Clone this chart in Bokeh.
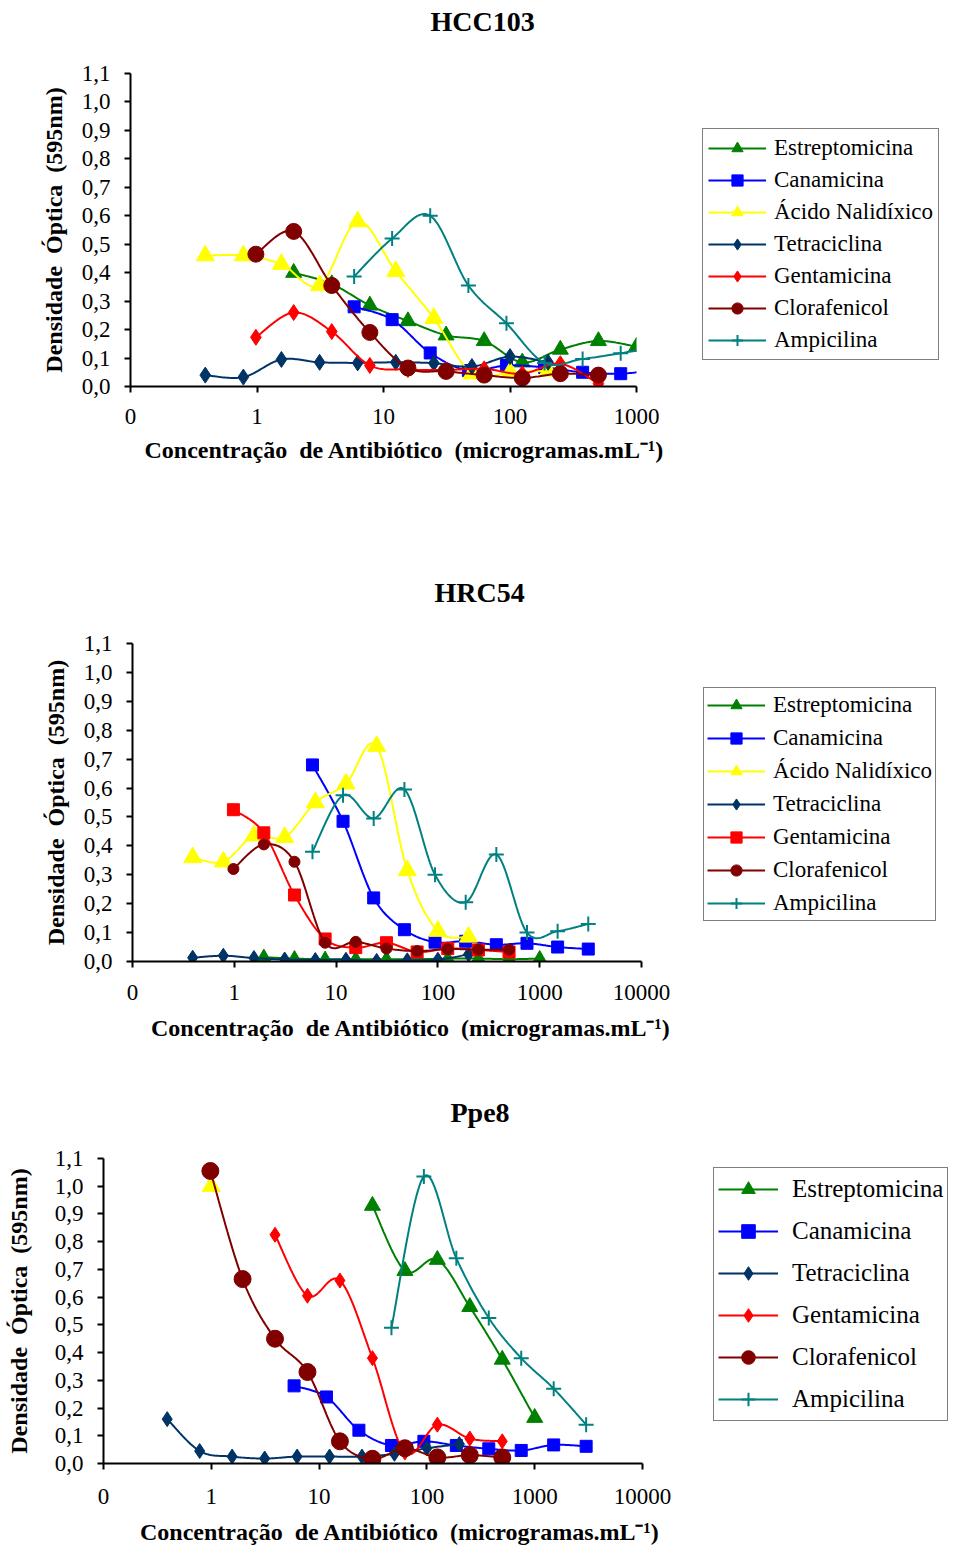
import math
import numpy as np
from bokeh.plotting import figure
from bokeh.models import (Range1d, FixedTicker, CustomJSTickFormatter, Title,
                          Legend, LegendItem)
from bokeh.embed import file_html
from bokeh.resources import INLINE

FONT = "Liberation Serif"
NB = "\u00a0"

# ---------------- data (concentrations in microgramas/mL, OD 595nm) ----------------
conc_a = [0.39, 0.78, 1.56, 3.125, 6.25, 12.5, 25, 50, 100, 200]
conc_b = [0.98, 1.95, 3.9, 7.8, 15.6, 31.25, 62.5, 125, 250, 500]
conc_c = [1.95, 3.9, 7.8, 15.6, 31.25, 62.5, 125, 250, 500, 1000]
conc_d = [5.86, 11.7, 23.4, 46.9, 93.75, 187.5, 375, 750, 1500, 3000]

x_ticks_short = [0.1, 1, 10, 100, 1000]
x_ticks_long = [0.1, 1, 10, 100, 1000, 10000]
y_ticks = [0.0, 0.1, 0.2, 0.3, 0.4, 0.5, 0.6, 0.7, 0.8, 0.9, 1.0, 1.1]

titles = ["HCC103", "HRC54", "Ppe8"]
y_label = "Densidade" + NB * 2 + "Óptica" + NB * 2 + "(595nm)"
x_label = "Concentração" + NB * 2 + "de Antibiótico" + NB * 2 + "(microgramas.mL⁻¹)"

# HCC103
hcc_estrep = [0.40, 0.36, 0.285, 0.23, 0.18, 0.16, 0.085, 0.13, 0.16, 0.14]
hcc_canam = [0.28, 0.235, 0.118, 0.056, 0.074, 0.067, 0.05, 0.045, 0.06]
hcc_nalid = [0.46, 0.46, 0.43, 0.355, 0.58, 0.405, 0.24, 0.045, 0.05, 0.055]
hcc_tetra = [0.04, 0.033, 0.095, 0.085, 0.083, 0.085, 0.082, 0.07, 0.105, 0.085]
hcc_genta = [0.173, 0.26, 0.193, 0.074, 0.06, 0.058, 0.062, 0.045, 0.08, 0.01]
hcc_clora = [0.465, 0.545, 0.355, 0.19, 0.065, 0.053, 0.04, 0.03, 0.045, 0.04]
hcc_ampic = [0.387, 0.52, 0.60, 0.355, 0.222, 0.083, 0.097, 0.117, 0.14]

# HRC54
hrc_estrep = [0.015, 0.01, 0.008, 0.008, 0.008, 0.008, 0.01, 0.01, 0.008, 0.01]
hrc_canam = [0.68, 0.485, 0.22, 0.11, 0.067, 0.07, 0.058, 0.063, 0.05, 0.043]
hrc_nalid = [0.36, 0.345, 0.435, 0.43, 0.55, 0.615, 0.745, 0.315, 0.105, 0.085]
hrc_tetra = [0.013, 0.02, 0.012, 0.007, 0.005, 0.006, 0.002, 0.004, 0.006, 0.025]
hrc_genta = [0.525, 0.445, 0.23, 0.078, 0.048, 0.065, 0.033, 0.045, 0.04, 0.033]
hrc_clora = [0.32, 0.405, 0.345, 0.065, 0.068, 0.045, 0.036, 0.043, 0.041, 0.041]
hrc_ampic = [0.38, 0.575, 0.495, 0.595, 0.30, 0.205, 0.37, 0.10, 0.105, 0.13]

# Ppe8
ppe_estrep = [0.93, 0.695, 0.735, 0.565, 0.375, 0.165]          # conc_c[4:]
ppe_canam = [0.28, 0.24, 0.12, 0.065, 0.08, 0.065, 0.053, 0.047, 0.067, 0.062]
ppe_nalid_x = [1.0]
ppe_nalid = [1.0]
ppe_tetra = [0.16, 0.045, 0.025, 0.018, 0.025, 0.025, 0.025, 0.035, 0.055, 0.07]
ppe_genta = [0.825, 0.605, 0.66, 0.38, 0.04, 0.14, 0.09, 0.08]   # conc_b[2:]
ppe_clora = [1.055, 0.665, 0.45, 0.33, 0.08, 0.017, 0.055, 0.022, 0.03, 0.022]
ppe_ampic = [0.49, 1.035, 0.74, 0.525, 0.38, 0.27, 0.14]         # conc_d[3:]

C_ESTREP = "#008000"
C_CANAM = "#0000FF"
C_NALID = "#FFFF00"
C_TETRA = "#003366"
C_GENTA = "#FF0000"
C_CLORA = "#800000"
C_AMPIC = "#008080"


def smooth(xs, ys, n=24):
    """Excel-like smoothed line (Bezier / Catmull-Rom in log10(x), y)."""
    lx = list(np.log10(np.asarray(xs, dtype=float)))
    ly = list(np.asarray(ys, dtype=float))
    if len(lx) < 3:
        return list(xs), list(ys)
    P = [(lx[0], ly[0])] + list(zip(lx, ly)) + [(lx[-1], ly[-1])]
    ox, oy = [], []
    for i in range(1, len(P) - 2):
        p0, p1, p2, p3 = (np.array(P[i - 1]), np.array(P[i]),
                          np.array(P[i + 1]), np.array(P[i + 2]))
        c1 = p1 + (p2 - p0) / 6.0
        c2 = p2 - (p3 - p1) / 6.0
        for t in np.linspace(0, 1, n, endpoint=False):
            b = ((1 - t) ** 3) * p1 + 3 * ((1 - t) ** 2) * t * c1 \
                + 3 * (1 - t) * t * t * c2 + t ** 3 * p2
            ox.append(b[0])
            oy.append(b[1])
    ox.append(lx[-1])
    oy.append(ly[-1])
    return list(10 ** np.array(ox)), oy


def make_panel(idx, series, xmax, xticks, page_top, page_bottom, frame, cfg):
    fl, fr, ft, fb = frame  # page pixel edges of the plotting frame
    ttl = Title(text=titles[idx], align="left", offset=cfg["title_off"],
                text_font=FONT, text_font_style="bold",
                text_font_size="28px", text_color="black", standoff=0)
    p = figure(frame_width=fr - fl, frame_height=fb - ft,
               x_axis_type="log", title=ttl,
               x_range=Range1d(0.1, xmax), y_range=Range1d(0, 1.1),
               output_backend="svg", toolbar_location=None,
               min_border_left=fl, min_border_right=0,
               min_border_top=ft - page_top,
               min_border_bottom=page_bottom - fb)
    # spacer between the title and the frame
    p.add_layout(Title(text=" ", text_font_size="1px",
                       standoff=cfg["spacer"]), "above")
    p.outline_line_color = None
    p.xgrid.visible = False
    p.ygrid.visible = False
    p.background_fill_color = "white"
    p.border_fill_color = "white"

    for ax in (p.xaxis[0], p.yaxis[0]):
        ax.axis_line_color = "black"
        ax.axis_line_width = 2
        ax.major_tick_line_color = "black"
        ax.major_tick_line_width = 2
        ax.major_tick_in = 0
        ax.major_tick_out = 6
        ax.minor_tick_line_color = None
        ax.major_label_text_font = FONT
        ax.major_label_text_font_size = "23px"
        ax.major_label_text_color = "black"
        ax.axis_label_text_font = FONT
        ax.axis_label_text_font_style = "bold"
        ax.axis_label_text_color = "black"
    p.xaxis.ticker = FixedTicker(ticks=xticks)
    p.xaxis.formatter = CustomJSTickFormatter(
        code="return tick < 0.5 ? '0' : tick.toFixed(0);")
    p.xaxis.major_label_standoff = cfg["xtick_standoff"]
    p.xaxis.axis_label = NB * cfg["xlab_shift"] + x_label
    p.xaxis.axis_label_text_font_size = "24px"
    p.xaxis.axis_label_standoff = cfg["xlab_standoff"]

    p.yaxis.ticker = FixedTicker(ticks=y_ticks)
    p.yaxis.formatter = CustomJSTickFormatter(
        code="return tick.toFixed(1).replace('.', ',');")
    p.yaxis.major_label_standoff = 14
    p.yaxis.axis_label = y_label
    p.yaxis.axis_label_text_font_size = "24px"
    p.yaxis.axis_label_standoff = cfg["ylab_standoff"]

    items = []
    for (name, xs, ys, marker, color, size, show) in series:
        sx, sy = smooth(xs, ys)
        rend = []
        if len(xs) > 1:
            rend.append(p.line(sx, sy, line_color=color, line_width=2))
        if marker == "cross":
            rend.append(p.scatter(xs, ys, marker="cross", size=size,
                                  line_color=color, line_width=2))
        else:
            rend.append(p.scatter(xs, ys, marker=marker, size=size,
                                  fill_color=color, line_color=color))
        if show:
            items.append(LegendItem(label=name, renderers=rend))

    lg = Legend(items=items, location=cfg["loc"])
    lg.label_text_font = FONT
    lg.label_text_font_size = cfg["font"]
    lg.label_text_color = "black"
    lg.glyph_width = cfg["gw"]
    lg.glyph_height = cfg["gh"]
    lg.label_height = cfg["gh"]
    lg.spacing = cfg["sp"]
    lg.padding = cfg["pad"]
    lg.margin = 0
    lg.label_standoff = cfg["so"]
    lg.border_line_color = "black"
    lg.border_line_width = 1.5
    lg.background_fill_color = "white"
    lg.background_fill_alpha = 1.0
    p.add_layout(lg, "right")
    return p


s1 = [
    ("Estreptomicina", conc_c, hcc_estrep, "triangle", C_ESTREP, 16, True),
    ("Canamicina", conc_d[:9], hcc_canam, "square", C_CANAM, 12, True),
    ("Ácido Nalidíxico", conc_a, hcc_nalid, "triangle", C_NALID, 18, True),
    ("Tetraciclina", conc_a, hcc_tetra, "diamond", C_TETRA, 16, True),
    ("Gentamicina", conc_b, hcc_genta, "diamond", C_GENTA, 16, True),
    ("Clorafenicol", conc_b, hcc_clora, "circle", C_CLORA, 16, True),
    ("Ampicilina", conc_d[:9], hcc_ampic, "cross", C_AMPIC, 15, True),
]
s2 = [
    ("Estreptomicina", conc_c, hrc_estrep, "triangle", C_ESTREP, 14, True),
    ("Canamicina", conc_d, hrc_canam, "square", C_CANAM, 12, True),
    ("Ácido Nalidíxico", conc_a, hrc_nalid, "triangle", C_NALID, 18, True),
    ("Tetraciclina", conc_a, hrc_tetra, "diamond", C_TETRA, 15, True),
    ("Gentamicina", conc_b, hrc_genta, "square", C_GENTA, 12, True),
    ("Clorafenicol", conc_b, hrc_clora, "circle", C_CLORA, 11, True),
    ("Ampicilina", conc_d, hrc_ampic, "cross", C_AMPIC, 15, True),
]
s3 = [
    ("Estreptomicina", conc_c[4:], ppe_estrep, "triangle", C_ESTREP, 16, True),
    ("Canamicina", conc_d, ppe_canam, "square", C_CANAM, 12, True),
    ("Ácido Nalidíxico", ppe_nalid_x, ppe_nalid, "triangle", C_NALID, 18, False),
    ("Tetraciclina", conc_a, ppe_tetra, "diamond", C_TETRA, 15, True),
    ("Gentamicina", conc_b[2:], ppe_genta, "diamond", C_GENTA, 15, True),
    ("Clorafenicol", conc_b, ppe_clora, "circle", C_CLORA, 17, True),
    ("Ampicilina", conc_d[3:], ppe_ampic, "cross", C_AMPIC, 15, True),
]

p1 = make_panel(0, s1, 1000, x_ticks_short, 0, 573, (130, 636, 73, 386),
                dict(title_off=300, spacer=34, xtick_standoff=16,
                     xlab_shift=7, xlab_standoff=10,
                     loc=(66, 26), font="23px", gw=58, gh=28, sp=4,
                     pad=5, so=8, ylab_standoff=12))
p2 = make_panel(1, s2, 10000, x_ticks_long, 573, 1093, (132, 641, 643, 961),
                dict(title_off=302, spacer=33, xtick_standoff=17,
                     xlab_shift=8, xlab_standoff=12,
                     loc=(62, 40), font="23px", gw=58, gh=28, sp=5,
                     pad=3, so=8, ylab_standoff=12))
p3 = make_panel(2, s3, 10000, x_ticks_long, 1093, 1547, (103, 642, 1158, 1463),
                dict(title_off=347, spacer=28, xtick_standoff=19,
                     xlab_shift=9, xlab_standoff=12,
                     loc=(71, 42), font="25px", gw=60, gh=34, sp=8,
                     pad=4, so=14, ylab_standoff=20))

# three independent roots (no frame alignment between them), stacked on the page
open("out.html", "w").write(file_html([p1, p2, p3], INLINE))
